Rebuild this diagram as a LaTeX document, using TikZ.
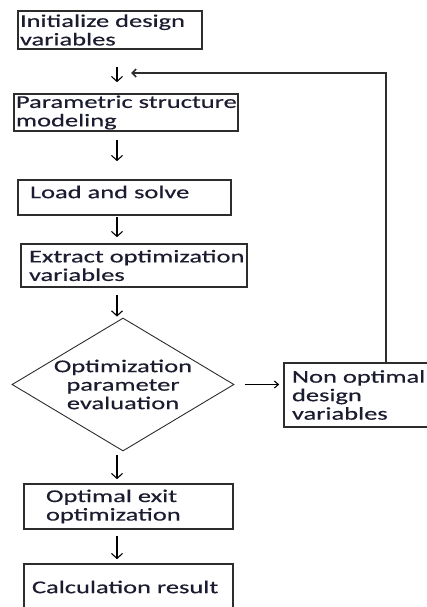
\documentclass[tikz,border=0pt]{standalone}
\usepackage{fontspec}
\setmainfont{Carlito}[FakeStretch=1.47,FakeBold=0.4]
\usetikzlibrary{shapes.geometric,arrows.meta}
\definecolor{txt}{RGB}{28,28,48}
\definecolor{bord}{RGB}{45,45,45}
\newcommand{\lift}[2]{\raisebox{#1}[\height][\depth]{#2}}
\begin{document}
\begin{tikzpicture}[x=1pt,y=-1pt,
  every node/.style={font=\fontsize{18}{18.5}\selectfont, text=txt},
  box/.style={draw=bord, line width=1.6pt, rectangle, inner ysep=0pt, align=left},
  dec/.style={draw=bord, line width=0.9pt, diamond, aspect=1.67, inner sep=-6pt, align=center},
  darr/.style={line width=1.1pt, -{Straight Barb[length=5pt,width=11pt]}},
  rarr/.style={line width=1.1pt, -{Straight Barb[length=4pt,width=7pt]}},
  farr/.style={line width=1.6pt, draw=bord, -{Straight Barb[length=4pt,width=8pt]}},
]
\useasboundingbox (0,0) rectangle (426,607);
\fill[white] (0,0) rectangle (426,607);

\node[box, minimum width=184pt, minimum height=38pt, inner xsep=2pt, text width=180pt] (b1) at (110,30) {\mbox{Initialize design}\\\mbox{variables}};
\node[box, minimum width=224pt, minimum height=37pt, inner xsep=2pt, text width=220pt] (b2) at (126,112.5) {\mbox{Parametric structure}\\\mbox{modeling}};
\node[box, minimum width=213pt, minimum height=35pt, inner xsep=12pt, text width=189pt] (b3) at (124.5,197.5) {\lift{5.5pt}{Load and solve}};
\node[box, minimum width=226pt, minimum height=43pt, inner xsep=8pt, text width=210pt] (b4) at (134,265.5) {\mbox{Extract optimization}\\\mbox{variables}};
\node[dec, minimum width=222pt, minimum height=133pt] (d) at (123,384.5) {Optimization\\parameter\\evaluation};
\node[box, minimum width=166pt, minimum height=64pt, inner xsep=8pt, text width=150pt] (no) at (367,395) {\mbox{Non optimal}\\\mbox{design}\\\mbox{variables}};
\node[box, minimum width=209pt, minimum height=45pt, inner xsep=22pt, text width=165pt] (b5) at (128.5,506.5) {\mbox{Optimal exit}\\\mbox{optimization}};
\node[box, minimum width=209pt, minimum height=60pt, inner xsep=8pt, text width=193pt] (b6) at (128.5,594) {\lift{7pt}{Calculation result}};

\coordinate (ax) at (117,0);
\coordinate (fx) at (386,0);
\coordinate (fb) at (131,73);

\draw[darr, shorten <=17pt, shorten >=11pt] (ax |- b1.south) -- (ax |- b2.north);
\draw[darr, shorten <=8pt, shorten >=18pt] (ax |- b2.south) -- (ax |- b3.north);
\draw[darr, shorten <=1pt, shorten >=6pt] (ax |- b3.south) -- (ax |- b4.north);
\draw[darr, shorten <=7pt, shorten >=1pt] (ax |- b4.south) -- (ax |- d.north);
\draw[darr, shorten <=4pt, shorten >=4pt] (ax |- d.south) -- (ax |- b5.north);
\draw[darr, shorten <=6pt, shorten >=4pt] (ax |- b5.south) -- (ax |- b6.north);
\draw[rarr, shorten <=11pt, shorten >=4pt] (d.east) -- (d.east -| no.west);
\draw[farr] (fx |- no.north) |- (fb);
\end{tikzpicture}
\end{document}
